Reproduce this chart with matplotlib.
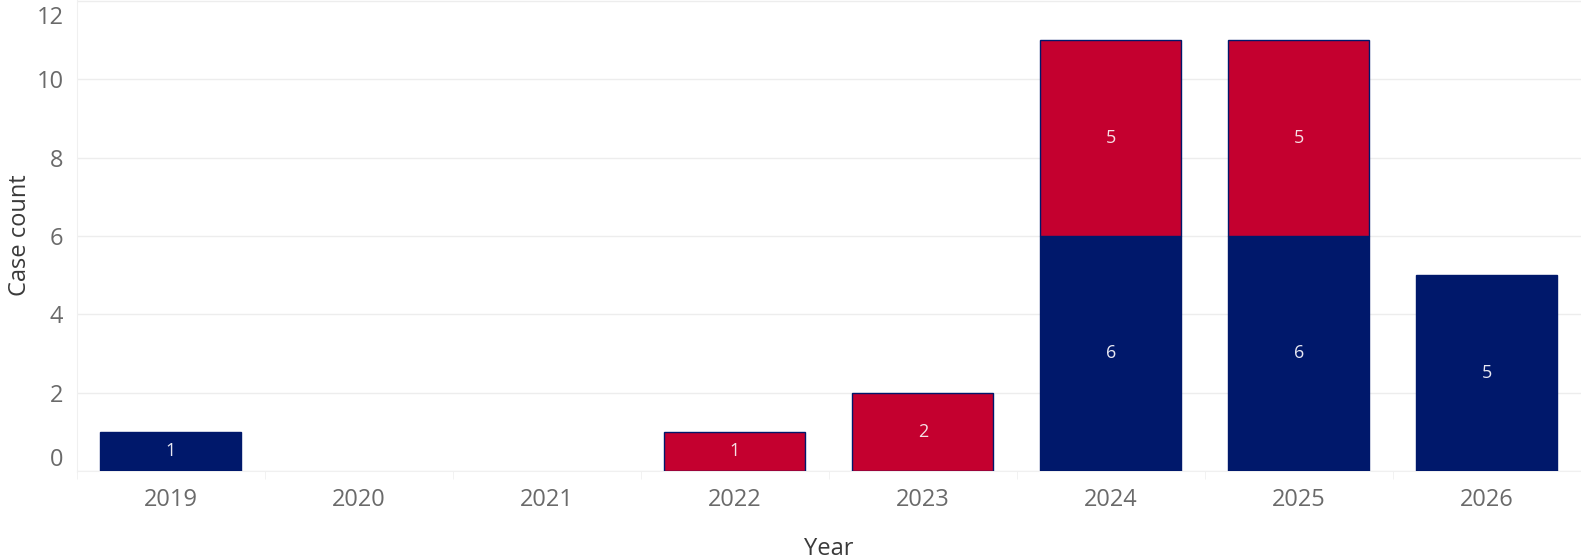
import matplotlib.pyplot as plt
import matplotlib.transforms as mtransforms
import numpy as np

plt.rcParams['font.family'] = ['Open Sans', 'DejaVu Sans']

# Datos
anios = ['2019', '2020', '2021', '2022', '2023', '2024', '2025', '2026']
azul = [1, 0, 0, 0, 0, 6, 6, 5]
rojo = [0, 0, 0, 1, 2, 5, 5, 0]

color_azul = '#00186B'
color_rojo = '#C4002F'

fig = plt.figure(figsize=(15.81, 5.58), dpi=100)
ax = fig.add_axes([0.0485, 0.156, 0.9515, 0.844])

x = np.arange(len(anios))
ancho = 0.75

# sin borde en las barras de altura cero
lw_azul = [1 if v > 0 else 0 for v in azul]
lw_rojo = [1 if v > 0 else 0 for v in rojo]
ax.bar(x, azul, ancho, color=color_azul, edgecolor=color_azul, linewidth=lw_azul, zorder=3)
ax.bar(x, rojo, ancho, bottom=azul, color=color_rojo, edgecolor=color_azul, linewidth=lw_rojo, zorder=3)

# Etiquetas dentro de las barras
for i in range(len(anios)):
    if azul[i] > 0:
        ax.text(x[i], azul[i] / 2, str(azul[i]), ha='center', va='center',
                color='#E8E8F2', fontsize=13, zorder=4)
    if rojo[i] > 0:
        ax.text(x[i], azul[i] + rojo[i] / 2, str(rojo[i]), ha='center', va='center',
                color='#F6E0E5', fontsize=13, zorder=4)

ax.set_xlim(-0.5, 7.47)
ax.set_ylim(0, 12.02)
ax.set_yticks(range(0, 13, 2))
ax.set_xticks(x)
ax.set_xticklabels(anios)
ax.set_xticks(np.arange(-0.5, 8, 1), minor=True)

ax.grid(axis='y', color='#EDEDED', linewidth=1, zorder=0)
for s in ['top', 'right']:
    ax.spines[s].set_visible(False)
for s in ['left', 'bottom']:
    ax.spines[s].set_color('#F0F0F0')

ax.tick_params(axis='both', which='major', length=0, labelsize=17, colors='#6A6A6A')
ax.tick_params(axis='x', which='major', pad=12)
ax.tick_params(axis='y', which='major', pad=9.5)
ax.tick_params(axis='x', which='minor', length=6, color='#F0F0F0')

# El "0" va un poco más arriba y el "12" un poco más abajo
etiquetas = ax.get_yticklabels()
etiquetas[0].set_transform(etiquetas[0].get_transform() + mtransforms.ScaledTranslation(0, 14 / 100, fig.dpi_scale_trans))
etiquetas[-1].set_transform(etiquetas[-1].get_transform() + mtransforms.ScaledTranslation(0, -14 / 100, fig.dpi_scale_trans))

ax.set_xlabel('Year', fontsize=17, color='#3A3A3A', labelpad=18)
ax.set_ylabel('Case count', fontsize=17, color='#3A3A3A', labelpad=3)

plt.savefig('out.png', dpi=100)
